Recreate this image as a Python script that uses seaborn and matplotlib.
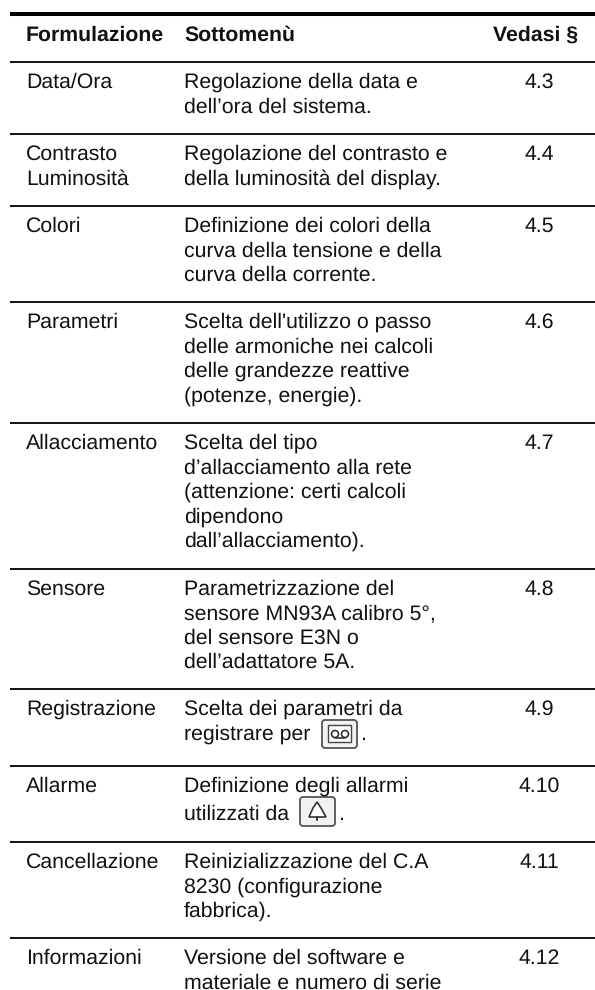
import seaborn as sns
import matplotlib.pyplot as plt
from matplotlib.patches import FancyBboxPatch, Circle, Polygon

# table content
headers = ['Formulazione', 'Sottomenù', 'Vedasi §']
voci = ['Data/Ora', 'Contrasto\nLuminosità', 'Colori', 'Parametri', 'Allacciamento',
        'Sensore', 'Registrazione', 'Allarme', 'Cancellazione', 'Informazioni']
descrizioni = [
    'Regolazione della data e\ndell’ora del sistema.',
    'Regolazione del contrasto e\ndella luminosità del display.',
    'Definizione dei colori della\ncurva della tensione e della\ncurva della corrente.',
    "Scelta dell'utilizzo o passo\ndelle armoniche nei calcoli\ndelle grandezze reattive\n(potenze, energie).",
    'Scelta del tipo\nd’allacciamento alla rete\n(attenzione: certi calcoli\ndipendono\ndall’allacciamento).',
    'Parametrizzazione del\nsensore MN93A calibro 5°,\ndel sensore E3N o\ndell’adattatore 5A.',
    'Scelta dei parametri da\nregistrare per',
    'Definizione degli allarmi\nutilizzati da',
    'Reinizializzazione del C.A\n8230 (configurazione\nfabbrica).',
    'Versione del software e\nmateriale e numero di serie',
]
paragrafi = ['4.3', '4.4', '4.5', '4.6', '4.7', '4.8', '4.9', '4.10', '4.11', '4.12']

# layout, in pixels of the page
W, H = 595, 990
RULES = [62, 134, 206, 302, 423, 569, 689, 766, 842, 938]
X_VOCE, X_DESC, X_HEAD_REF, X_REF = 26, 184, 536, 539
PITCH = 24.4
INK = '#111111'
FS = 15.3

sns.set_theme(style='white')
plt.rcParams['font.family'] = ['Liberation Sans', 'DejaVu Sans']
plt.rcParams['text.hinting'] = 'none'

fig = plt.figure(figsize=(W / 100, H / 100), dpi=100)
ax = fig.add_axes([0, 0, 1, 1])
ax.set_xlim(0, W)
ax.set_ylim(H, 0)
ax.axis('off')

# rules
sns.lineplot(x=[10, W], y=[14, 14], color='black', lw=2.9, ax=ax, solid_capstyle='butt')
for y in RULES:
    sns.lineplot(x=[10, W], y=[y, y], color='black', lw=1.3, ax=ax, solid_capstyle='butt')

# header
for name, x, ha in zip(headers, [X_VOCE, X_DESC, X_HEAD_REF], ['left', 'left', 'center']):
    ax.text(x, 41, name, fontsize=FS, fontweight='bold', color=INK, ha=ha, va='baseline')

# rows
for y, voce, desc, ref in zip(RULES, voci, descrizioni, paragrafi):
    base = y + 26
    for k, line in enumerate(voce.split('\n')):
        ax.text(X_VOCE, base + k * PITCH, line, fontsize=FS, color=INK, va='baseline')
    for k, line in enumerate(desc.split('\n')):
        extra = 3 if voce == 'Allarme' and k == 1 else 0
        ax.text(X_DESC, base + k * PITCH + extra, line, fontsize=FS, color=INK, va='baseline')
    ax.text(X_REF, base, ref, fontsize=FS, color=INK, ha='center', va='baseline')


def key(x, y, w, h):
    ax.add_patch(FancyBboxPatch((x + 3, y + 3), w - 6, h - 6, boxstyle='round,pad=3',
                                fc='#f2f2f2', ec='#555555', lw=1.3))


# tape key
key(322, 720, 35, 28)
ax.add_patch(Polygon([[328, 725], [351, 725], [351, 742], [328, 742]], fc='white', ec='#444444', lw=1.0))
ax.add_patch(Circle((335, 734), 3.5, fc='none', ec='#333333', lw=1.2))
ax.add_patch(Circle((345, 734), 3.5, fc='none', ec='#333333', lw=1.2))
ax.plot([335, 345], [737.5, 737.5], color='#333333', lw=1.2)
ax.text(360, 740, '.', fontsize=FS, color=INK, va='baseline')

# bell key
key(300, 797, 35, 29)
ax.add_patch(Polygon([[317, 802], [313, 808], [309, 817], [326, 817], [321, 808]],
                     fc='white', ec='#333333', lw=1.2))
ax.plot([317, 317], [817, 820], color='#333333', lw=1.4)
ax.text(338, 820, '.', fontsize=FS, color=INK, va='baseline')

fig.savefig('out.png', dpi=100)
